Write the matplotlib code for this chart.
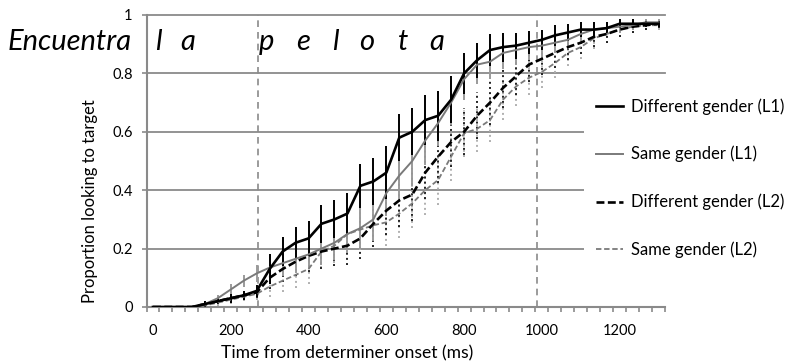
import numpy as np
import matplotlib.pyplot as plt
from matplotlib.patches import Rectangle

plt.rcParams['font.family'] = ['Lato', 'DejaVu Sans']

# 40 time bins of 1/30 s from determiner onset
time_ms = np.arange(40) * 1000 / 30.0

# proportion of looks to target, one value per bin
diff_l1 = [0, 0, 0, 0, 0.01, 0.02, 0.03, 0.04, 0.055, 0.13, 0.19, 0.22, 0.235, 0.285, 0.30, 0.32,
           0.415, 0.43, 0.46, 0.58, 0.60, 0.64, 0.655, 0.71, 0.80, 0.845, 0.88, 0.89, 0.895, 0.905,
           0.915, 0.93, 0.94, 0.95, 0.95, 0.955, 0.97, 0.97, 0.97, 0.97]
same_l1 = [0, 0, 0, 0, 0.01, 0.03, 0.06, 0.09, 0.115, 0.135, 0.15, 0.165, 0.18, 0.20, 0.22, 0.25,
           0.27, 0.30, 0.39, 0.45, 0.50, 0.57, 0.63, 0.70, 0.78, 0.83, 0.84, 0.87, 0.88, 0.89,
           0.895, 0.905, 0.915, 0.935, 0.95, 0.955, 0.96, 0.965, 0.975, 0.975]
diff_l2 = [0, 0, 0, 0, 0.01, 0.02, 0.03, 0.04, 0.05, 0.10, 0.13, 0.155, 0.175, 0.19, 0.20, 0.21,
           0.235, 0.285, 0.33, 0.365, 0.385, 0.46, 0.515, 0.565, 0.60, 0.655, 0.70, 0.75, 0.79, 0.83,
           0.85, 0.87, 0.89, 0.905, 0.925, 0.935, 0.95, 0.96, 0.965, 0.97]
same_l2 = [0, 0, 0, 0, 0.005, 0.015, 0.025, 0.035, 0.045, 0.07, 0.09, 0.11, 0.13, 0.19, 0.21, 0.25,
           0.265, 0.28, 0.29, 0.32, 0.355, 0.40, 0.435, 0.515, 0.595, 0.61, 0.64, 0.71, 0.755, 0.785,
           0.805, 0.835, 0.87, 0.89, 0.92, 0.935, 0.95, 0.96, 0.965, 0.965]

# standard errors
err_diff_l1 = [0, 0, 0, 0, 0.01, 0.01, 0.015, 0.015, 0.02, 0.05, 0.05, 0.055, 0.06, 0.065, 0.065, 0.07,
               0.075, 0.08, 0.09, 0.08, 0.08, 0.085, 0.085, 0.08, 0.07, 0.06, 0.055, 0.05, 0.045, 0.04,
               0.035, 0.035, 0.03, 0.025, 0.025, 0.02, 0.015, 0.015, 0.01, 0.01]
err_same_l1 = [0, 0, 0, 0, 0.01, 0.01, 0.02, 0.02, 0.03, 0.04, 0.045, 0.05, 0.05, 0.055, 0.06, 0.065,
               0.07, 0.075, 0.08, 0.085, 0.085, 0.085, 0.08, 0.075, 0.07, 0.065, 0.06, 0.055, 0.05, 0.045,
               0.04, 0.035, 0.03, 0.03, 0.025, 0.02, 0.02, 0.015, 0.01, 0.01]
err_diff_l2 = [0, 0, 0, 0, 0.01, 0.01, 0.015, 0.015, 0.02, 0.04, 0.045, 0.05, 0.055, 0.06, 0.06, 0.065,
               0.07, 0.08, 0.085, 0.09, 0.09, 0.09, 0.09, 0.085, 0.08, 0.08, 0.075, 0.07, 0.065, 0.06,
               0.055, 0.05, 0.045, 0.04, 0.035, 0.03, 0.025, 0.02, 0.015, 0.015]
err_same_l2 = [0, 0, 0, 0, 0.01, 0.01, 0.015, 0.015, 0.02, 0.035, 0.04, 0.045, 0.05, 0.055, 0.06, 0.065,
               0.07, 0.075, 0.08, 0.085, 0.085, 0.085, 0.085, 0.085, 0.08, 0.08, 0.075, 0.07, 0.065, 0.06,
               0.055, 0.05, 0.045, 0.04, 0.035, 0.03, 0.025, 0.02, 0.015, 0.015]

labels = ['Different gender (L1)', 'Same gender (L1)', 'Different gender (L2)', 'Same gender (L2)']

# word onsets (ms) and the letters of the sentence
word_onsets = [270, 987]
letters = ['l', 'a', 'p', 'e', 'l', 'o', 't', 'a']
letter_x = [13, 90, 293, 386, 468, 550, 643, 730]

xtick_vals = [0, 200, 400, 600, 800, 1000, 1200]
ytick_vals = [0, 0.2, 0.4, 0.6, 0.8, 1.0]
ytick_labels = ['0', '0.2', '0.4', '0.6', '0.8', '1']

GRAY = '#8a8a8a'

fig = plt.figure(figsize=(7.93, 3.63), dpi=100)
ax = fig.add_axes([146.5 / 793, 56 / 363, 518.5 / 793, 292 / 363])

# series: (values, errors, line colour, width, dashes, errbar colour, errbar style)
series = [
    (same_l2, err_same_l2, '#7a7a7a', 1.3, (3, 1.5), '#b0b0b0', ':'),
    (diff_l2, err_diff_l2, 'black', 1.9, (3, 1.3), '#222222', ':'),
    (same_l1, err_same_l1, '#7a7a7a', 1.4, None, '#9a9a9a', '-'),
    (diff_l1, err_diff_l1, 'black', 1.9, None, 'black', '-'),
]
lines = []
for vals, err, col, lw, dashes, ecol, els in series:
    eb = ax.errorbar(time_ms, vals, yerr=err, fmt='none', ecolor=ecol, elinewidth=1.4, capsize=0, zorder=3)
    eb.lines[2][0].set_linestyle(els)
    if dashes is None:
        ln, = ax.plot(time_ms, vals, color=col, lw=lw, zorder=4)
    else:
        ln, = ax.plot(time_ms, vals, color=col, lw=lw, dashes=dashes, zorder=4)
    lines.append(ln)

for xo in word_onsets:
    ax.axvline(xo, color=GRAY, lw=1.2, dashes=(4, 3), zorder=2)

ax.set_xlim(-500 / 30.0, 39.5 * 1000 / 30.0)
ax.set_ylim(0, 1)

ax.set_yticks(ytick_vals)
ax.set_yticklabels(ytick_labels)
ax.set_xticks(xtick_vals)
ax.set_xticklabels([str(v) for v in xtick_vals])
ax.set_xticks((np.arange(41) - 0.5) * 1000 / 30.0, minor=True)
ax.tick_params(axis='x', which='major', length=0, pad=12.5, labelsize=10.5)
ax.tick_params(axis='x', which='minor', length=3.5, width=1.2, color=GRAY, direction='out')
ax.tick_params(axis='y', length=3.5, width=1.2, color=GRAY, pad=6.5, labelsize=10.5)

ax.yaxis.grid(True, color=GRAY, lw=1.3)
ax.set_axisbelow(True)
for gl in ax.get_ygridlines():
    gl.set_clip_on(False)

for s in ['top', 'right']:
    ax.spines[s].set_visible(False)
for s in ['left', 'bottom']:
    ax.spines[s].set_color(GRAY)
    ax.spines[s].set_linewidth(1.5)

fig.text(90 / 793, 1 - 201 / 363, 'Proportion looking to target', rotation=90,
         ha='center', va='center', fontsize=12)
fig.text(347 / 793, 1 - 353 / 363, 'Time from determiner onset (ms)',
         ha='center', va='center', fontsize=12.6)

fig.text(8 / 793, 1 - 50 / 363, 'Encuentra', ha='left', va='baseline', fontsize=21, style='italic')
for ch, lx in zip(letters, letter_x):
    ax.text(lx, (307 - 50) / 292, ch, ha='center', va='baseline', fontsize=21, style='italic')

# white box behind the legend hides the grid lines
fig.patches.append(Rectangle((584 / 793, 1 - 275 / 363), 209 / 793, 190 / 363,
                             transform=fig.transFigure, facecolor='white',
                             edgecolor='none', zorder=1))
leg_handles = [lines[3], lines[2], lines[1], lines[0]]
fig.legend(leg_handles, labels, loc='upper left', bbox_to_anchor=(596 / 793, 1 - 98 / 363),
           frameon=False, fontsize=12, handlelength=1.6, handletextpad=0.5,
           labelspacing=1.88, borderpad=0, borderaxespad=0)

fig.savefig('out.png', dpi=100)
